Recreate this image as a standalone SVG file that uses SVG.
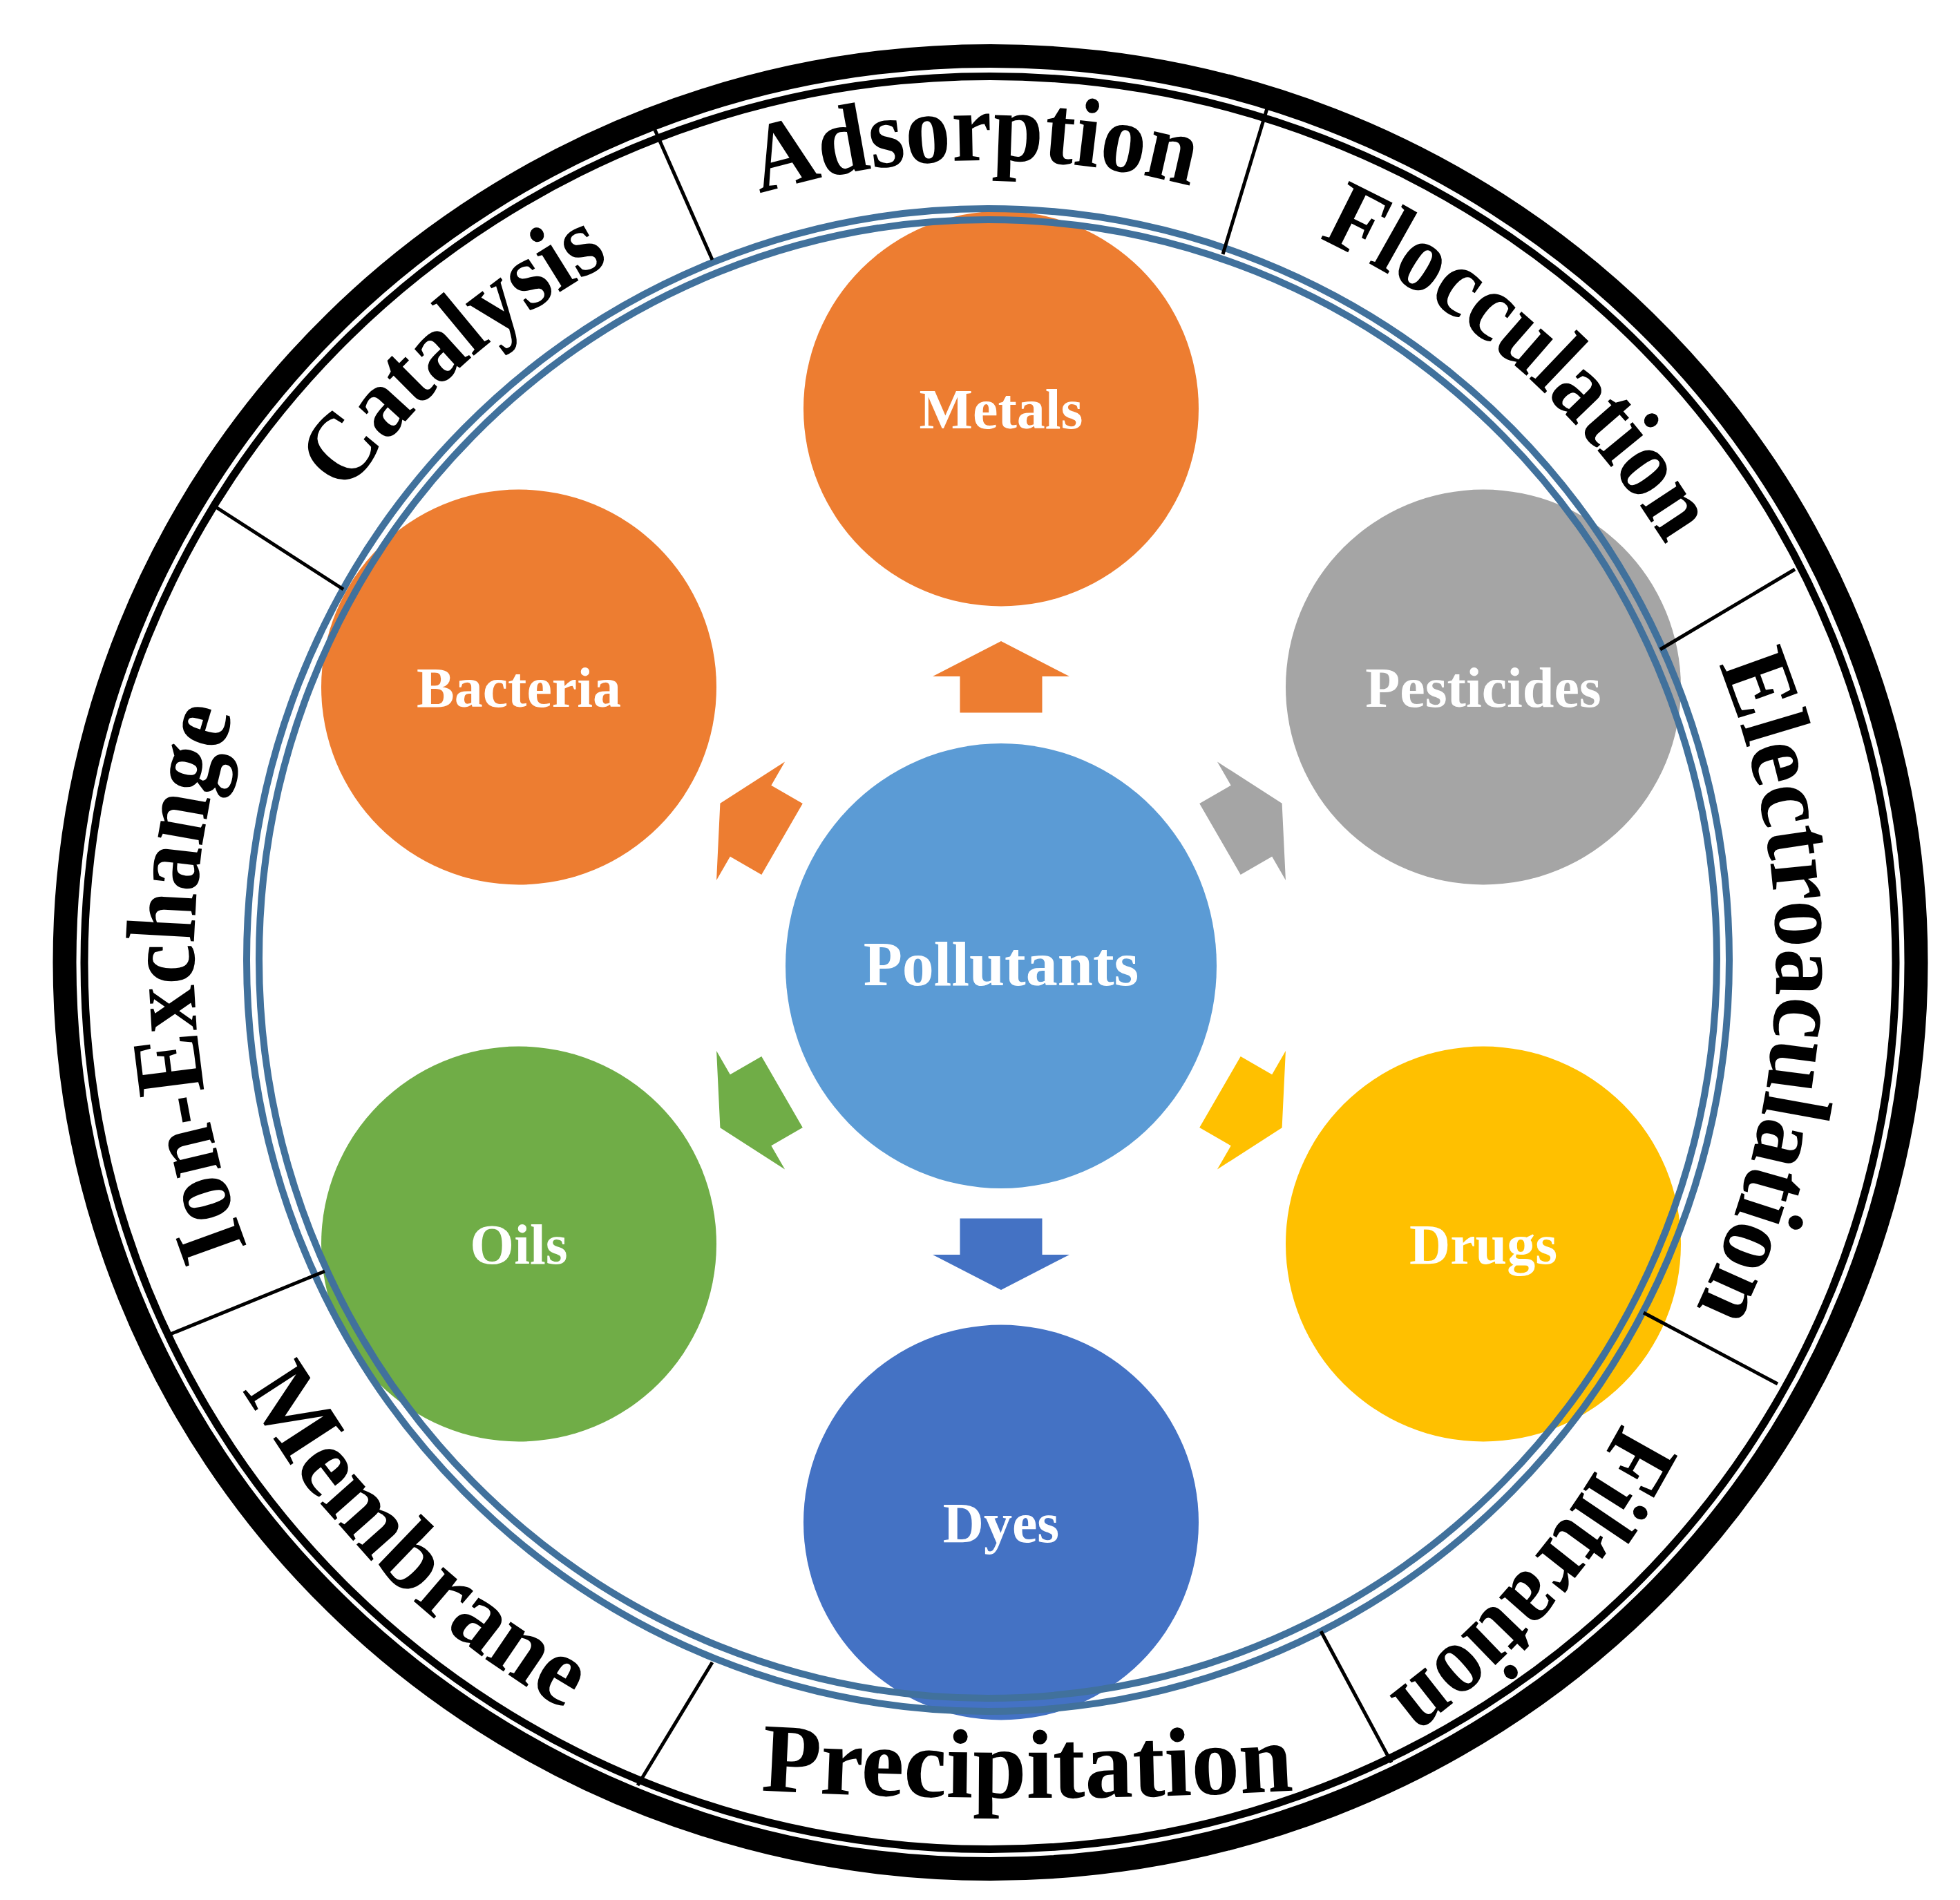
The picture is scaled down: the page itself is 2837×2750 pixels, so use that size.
<svg xmlns="http://www.w3.org/2000/svg" xmlns:xlink="http://www.w3.org/1999/xlink" width="2837" height="2750" viewBox="0 0 2837 2750">
<style>
.node-label{font-family:"Liberation Serif","Times New Roman",serif;font-weight:bold;fill:#FFFFFF;text-anchor:middle;}
.sat{font-size:82px;}
.center{font-size:92px;}
.ring-label{font-family:"Liberation Serif","Times New Roman",serif;font-weight:bold;font-size:142px;fill:#000000;}
.divider{stroke:#000000;stroke-width:5;fill:none;}
.blue-ring{fill:none;stroke:#41719C;stroke-width:10;}
</style>
<defs>
<path id="arrow" d="M0,-469.5 L99,-418.5 L59.5,-418.5 L59.5,-366 L-59.5,-366 L-59.5,-418.5 L-99,-418.5 Z"/>
<path id="arcTop1159" d="M341.9,994.6 A1159,1159 0 0 1 2520.1,994.6"/>
<path id="arcTop1150" d="M350.3,997.7 A1150,1150 0 0 1 2511.7,997.7"/>
<path id="arcTop1140" d="M359.7,1001.1 A1140,1140 0 0 1 2502.3,1001.1"/>
<path id="arcBot1245" d="M261.1,1816.8 A1245,1245 0 0 0 2600.9,1816.8"/>
<path id="flatBot" d="M787,2567 A7000,7000 0 0 0 2187,2567"/>
</defs>
<rect x="0" y="0" width="2837" height="2750" fill="#FFFFFF"/>

<g id="outer-ring">
<ellipse cx="1433.5" cy="1393" rx="1340" ry="1312" fill="none" stroke="#000000" stroke-width="34"/>
<ellipse cx="1433" cy="1393.5" rx="1311" ry="1283" fill="none" stroke="#000000" stroke-width="11"/>
</g>

<g id="node-metals"><circle cx="1449" cy="591.5" r="286" fill="#ED7D31"/><text class="node-label sat" x="1449" y="619.5">Metals</text></g>
<g id="node-pesticides"><circle cx="2147" cy="994.5" r="286" fill="#A5A5A5"/><text class="node-label sat" x="2147" y="1022.5">Pesticides</text></g>
<g id="node-drugs"><circle cx="2147" cy="1800.5" r="286" fill="#FFC000"/><text class="node-label sat" x="2147" y="1828.5">Drugs</text></g>
<g id="node-dyes"><circle cx="1449" cy="2203.5" r="286" fill="#4472C4"/><text class="node-label sat" x="1449" y="2231.5">Dyes</text></g>
<g id="node-oils"><circle cx="751" cy="1800.5" r="286" fill="#70AD47"/><text class="node-label sat" x="751" y="1828.5">Oils</text></g>
<g id="node-bacteria"><circle cx="751" cy="994.5" r="286" fill="#ED7D31"/><text class="node-label sat" x="751" y="1022.5">Bacteria</text></g>
<g id="node-pollutants"><ellipse cx="1449" cy="1398" rx="312" ry="322" fill="#5B9BD5"/><text class="node-label center" x="1449" y="1426">Pollutants</text></g>

<g id="connectors">
<use href="#arrow" transform="translate(1449,1397.5)" fill="#ED7D31"/>
<use href="#arrow" transform="translate(1449,1397.5) rotate(60)" fill="#A5A5A5"/>
<use href="#arrow" transform="translate(1449,1397.5) rotate(120)" fill="#FFC000"/>
<use href="#arrow" transform="translate(1449,1397.5) rotate(180)" fill="#4472C4"/>
<use href="#arrow" transform="translate(1449,1397.5) rotate(240)" fill="#70AD47"/>
<use href="#arrow" transform="translate(1449,1397.5) rotate(300)" fill="#ED7D31"/>
</g>

<g id="blue-rings">
<ellipse class="blue-ring" cx="1430" cy="1389.5" rx="1073" ry="1087.5"/>
<ellipse class="blue-ring" cx="1430" cy="1388" rx="1055" ry="1070"/>
</g>

<g id="dividers">
<line class="divider" x1="948" y1="188" x2="1031" y2="376"/>
<line class="divider" x1="1834" y1="157" x2="1770" y2="368"/>
<line class="divider" x1="2598" y1="824" x2="2403" y2="940"/>
<line class="divider" x1="2573" y1="2003" x2="2379" y2="1900"/>
<line class="divider" x1="2014" y1="2551" x2="1912" y2="2361"/>
<line class="divider" x1="1031" y1="2406" x2="923" y2="2584"/>
<line class="divider" x1="244" y1="1932" x2="470" y2="1840"/>
<line class="divider" x1="311" y1="733" x2="497" y2="853"/>
</g>

<g id="ring-labels">
<text id="label-adsorption" class="ring-label" transform="rotate(-1,1431,1391)"><textPath href="#arcTop1159" startOffset="50%" text-anchor="middle" textLength="632" lengthAdjust="spacingAndGlyphs">Adsorption</textPath></text>
<text id="label-flocculation" class="ring-label" transform="rotate(41.5,1431,1391)"><textPath href="#arcTop1150" startOffset="50%" text-anchor="middle" textLength="680" lengthAdjust="spacingAndGlyphs">Flocculation</textPath></text>
<text id="label-electroaculation" class="ring-label" transform="rotate(92,1431,1391)"><textPath href="#arcTop1140" startOffset="50%" text-anchor="middle" textLength="960" lengthAdjust="spacingAndGlyphs">Electroaculation</textPath></text>
<text id="label-filtration" class="ring-label" transform="translate(7,22) rotate(-8,2209,2245) rotate(138.5,1431,1391)"><textPath href="#arcTop1150" startOffset="50%" text-anchor="middle" textLength="525" lengthAdjust="spacingAndGlyphs">Filtration</textPath></text>
<text id="label-precipitation" class="ring-label"><textPath href="#flatBot" startOffset="50%" text-anchor="middle" textLength="772" lengthAdjust="spacingAndGlyphs">Precipitation</textPath></text>
<text id="label-membrane" class="ring-label" transform="rotate(44.8,1431,1391)"><textPath href="#arcBot1245" startOffset="50%" text-anchor="middle" textLength="665" lengthAdjust="spacingAndGlyphs">Membrane</textPath></text>
<text id="label-ion-exchange" class="ring-label" transform="rotate(-91.5,1431,1391)"><textPath href="#arcTop1150" startOffset="50%" text-anchor="middle" textLength="788" lengthAdjust="spacingAndGlyphs">Ion-Exchange</textPath></text>
<text id="label-catalysis" class="ring-label" transform="rotate(-41.24,1431,1391)"><textPath href="#arcTop1150" startOffset="50%" text-anchor="middle" textLength="515" lengthAdjust="spacingAndGlyphs">Catalysis</textPath></text>
</g>
</svg>
